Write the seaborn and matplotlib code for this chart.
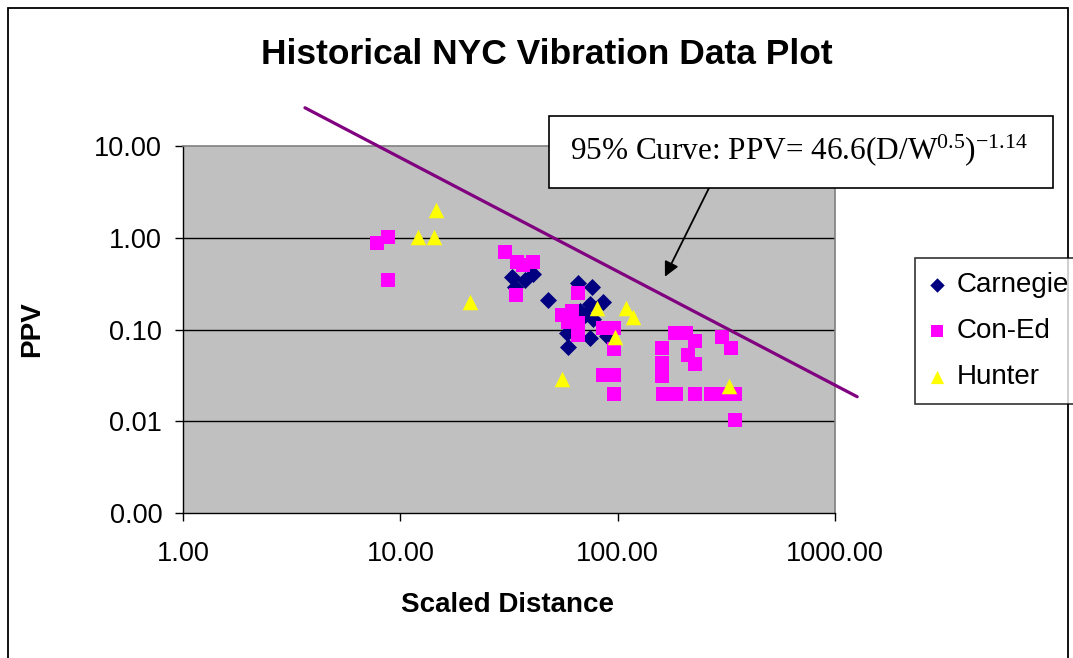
import seaborn as sns
import matplotlib.pyplot as plt
import pandas as pd
import numpy as np
from matplotlib.patches import Rectangle

# data
carnegie_x = [32.7, 33.7, 37.5, 40.8, 47.8, 65.7, 76.2, 74.6, 85.7, 77.1, 70.8, 58.5, 60.4, 59.1, 89.4, 67.1, 74.6]
carnegie_y = [0.37, 0.29, 0.35, 0.40, 0.21, 0.32, 0.29, 0.19, 0.20, 0.13, 0.145, 0.092, 0.11, 0.065, 0.085, 0.16, 0.081]

coned_x = [7.8, 8.8, 8.8, 30.3, 34.4, 36.7, 40.8, 34.1, 65.7, 55.5,
           61.7, 59.1, 65.7, 65.7, 85.7, 96.2, 96.2, 85.7, 96.2, 96.2,
           160, 160, 160, 184, 206, 227, 211, 227, 302, 332,
           162, 186, 227, 269, 305, 347, 347]
coned_y = [0.88, 1.02, 0.35, 0.70, 0.55, 0.50, 0.55, 0.24, 0.25, 0.145,
           0.16, 0.12, 0.118, 0.088, 0.104, 0.104, 0.062, 0.032, 0.032, 0.020,
           0.063, 0.043, 0.031, 0.092, 0.092, 0.074, 0.053, 0.042, 0.083, 0.063,
           0.020, 0.020, 0.020, 0.020, 0.020, 0.020, 0.0104]

hunter_x = [12.1, 14.3, 14.6, 20.9, 55.5, 80.4, 109, 118, 97.3, 326]
hunter_y = [1.02, 1.02, 2.02, 0.20, 0.029, 0.17, 0.17, 0.138, 0.083, 0.0244]

# 95% curve endpoints
curve_x = [3.64, 1265]
curve_y = [26.1, 0.0185]

x_ticks = [1, 10, 100, 1000]
x_labels = ['1.00', '10.00', '100.00', '1000.00']
y_ticks = [0.001, 0.01, 0.1, 1, 10]
y_labels = ['0.00', '0.01', '0.10', '1.00', '10.00']

sns.set_style("white")
plt.rcParams['font.family'] = ['Liberation Sans', 'DejaVu Sans']
plt.rcParams['text.color'] = 'black'
plt.rcParams['axes.labelcolor'] = 'black'
plt.rcParams['xtick.color'] = 'black'
plt.rcParams['ytick.color'] = 'black'
plt.rcParams['mathtext.fontset'] = 'custom'
plt.rcParams['mathtext.rm'] = 'Liberation Serif'
plt.rcParams['mathtext.it'] = 'Liberation Serif:italic'

fig = plt.figure(figsize=(10.73, 6.58), dpi=100)
ax = fig.add_axes([183 / 1073, 1 - 513 / 658, 652 / 1073, 367 / 658])
ax.set_facecolor('#C0C0C0')

ax.set_xscale('log')
ax.set_yscale('log')
ax.set_xlim(1, 1000)
ax.set_ylim(0.001, 10)

for yv in y_ticks[1:-1]:
    ax.axhline(yv, color='black', lw=1, zorder=1)

sns.scatterplot(x=carnegie_x, y=carnegie_y, marker='D', color='#000080', s=75,
                linewidth=0, label='Carnegie', ax=ax, zorder=3, legend=False)
sns.scatterplot(x=coned_x, y=coned_y, marker='s', color='#FF00FF', s=95,
                linewidth=0, label='Con-Ed', ax=ax, zorder=3, legend=False)
sns.scatterplot(x=hunter_x, y=hunter_y, marker='^', color='#FFFF00', s=125,
                linewidth=0, label='Hunter', ax=ax, zorder=3, legend=False)

line, = ax.plot(curve_x, curve_y, color='#800080', lw=2.3, zorder=4)
line.set_clip_on(False)

ax.set_xticks(x_ticks)
ax.set_xticklabels(x_labels)
ax.set_yticks(y_ticks)
ax.set_yticklabels(y_labels)
ax.minorticks_off()
ax.tick_params(axis='both', labelsize=19.5, length=6, width=1, color='black',
               labelcolor='black', direction='out', left=True, bottom=True)
ax.tick_params(axis='y', pad=9)
ax.tick_params(axis='x', pad=14)

for side in ['top', 'right']:
    ax.spines[side].set_color('#808080')
    ax.spines[side].set_linewidth(1.2)
for side in ['left', 'bottom']:
    ax.spines[side].set_color('black')
    ax.spines[side].set_linewidth(1)

ax.set_xlabel('Scaled Distance', fontsize=20, fontweight='bold', va='center')
ax.xaxis.set_label_coords(0.498, -0.25)
ax.set_ylabel('PPV', fontsize=20, fontweight='bold', va='center')
ax.yaxis.set_label_coords(-0.232, 0.5)

fig.text(547 / 1073, 1 - 55 / 658, 'Historical NYC Vibration Data Plot',
         fontsize=25.5, fontweight='bold', ha='center', va='center')

# annotation box with formula
fig.patches.append(Rectangle((549 / 1073, 1 - 188 / 658), 504 / 1073, 72 / 658,
                             transform=fig.transFigure, facecolor='white',
                             edgecolor='black', lw=1.2, zorder=5))
fig.text(570 / 1073, 1 - 150 / 658,
         r'95% Curve: PPV= 46.6(D/W$^{0.5}$)$^{-1.14}$',
         family='Liberation Serif', fontsize=22.5, ha='left', va='center', zorder=6)
ax.annotate('', xy=(165, 0.376), xycoords='data',
            xytext=(709 / 1073, 1 - 188 / 658), textcoords='figure fraction',
            arrowprops=dict(arrowstyle='-|>', color='black', lw=1.3,
                            mutation_scale=22, shrinkA=0, shrinkB=0),
            annotation_clip=False)

# figure border
fig.patches.append(Rectangle((8 / 1073, -0.1), 1060 / 1073, 1.1 - 8 / 658,
                             transform=fig.transFigure, fill=False,
                             edgecolor='black', lw=1.3, zorder=0))

handles, labels = ax.get_legend_handles_labels()
leg = fig.legend(handles, labels, loc='upper left',
                 bbox_to_anchor=(915 / 1073, 1 - 258 / 658), borderaxespad=0,
                 fontsize=20, frameon=True, fancybox=False, markerscale=0.85,
                 handlelength=0.6, handletextpad=0.4, labelspacing=0.72,
                 borderpad=0.5)
leg.get_frame().set_edgecolor('black')
leg.get_frame().set_linewidth(1.2)

fig.savefig('out.png', dpi=100)
